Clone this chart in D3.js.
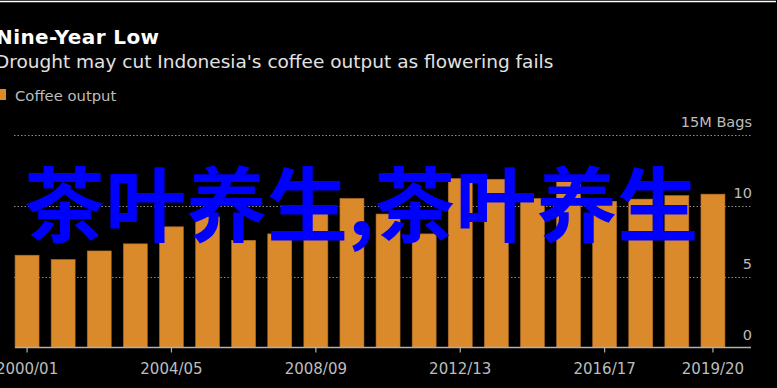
<!DOCTYPE html>
<html>
<head>
<meta charset="utf-8">
<script src="https://cdn.jsdelivr.net/npm/d3@7"></script>
<style>
  html, body { margin: 0; padding: 0; background: #000; }
  svg { display: block; }
</style>
</head>
<body>
<div id="chart"></div>
<script>
// Crop years and output (million bags)
var seasons = ['2000/01', '2001/02', '2002/03', '2003/04', '2004/05',
               '2005/06', '2006/07', '2007/08', '2008/09', '2009/10',
               '2010/11', '2011/12', '2012/13', '2013/14', '2014/15',
               '2015/16', '2016/17', '2017/18', '2018/19', '2019/20'];
var output = [6.5, 6.2, 6.8, 7.3, 8.5, 9.2, 7.55, 8.0, 9.5, 10.5,
              9.4, 8.0, 11.9, 11.85, 10.5, 12.0, 10.3, 10.45, 10.7, 10.8];
var xTickLabels = ['2000/01', '2004/05', '2008/09', '2012/13', '2016/17', '2019/20'];
var yTicks = [0, 5, 10, 15];

var W = 777, H = 388;

// Colour constants
var COLORS = {
  BG: '#000000',
  BAR: '#da8a2a',
  BAR_EDGE: '#a8692a',
  GRID: '#8a8a8a',
  AXIS: '#b0b0b0',
  LABEL: '#bdbdbd',
  TITLE: '#ffffff',
  SUB: '#e2e2e2',
  STAMP: '#0000ff'
};

var svg = d3.select('#chart')
  .append('svg')
  .attr('width', W)
  .attr('height', H)
  .style('font-family', '"DejaVu Sans", Verdana, sans-serif');

svg.append('rect').attr('width', W).attr('height', H).attr('fill', COLORS.BG);

// thin white rule on top
svg.append('line')
  .attr('x1', 0).attr('x2', 776)
  .attr('y1', 1.5).attr('y2', 1.5)
  .attr('stroke', '#ffffff')
  .attr('stroke-width', 1.5);

// Scales
var x = d3.scaleBand()
  .domain(seasons)
  .range([9, 731])
  .paddingInner(0.335)
  .paddingOuter(0.1675);

var y = d3.scaleLinear()
  .domain([0, 15])
  .range([347.5, 134.5]);

// Gridlines (dotted)
svg.append('g')
  .selectAll('line')
  .data(yTicks.filter(function(d) { return d > 0; }))
  .enter().append('line')
  .attr('x1', 14).attr('x2', 751)
  .attr('y1', function(d) { return Math.round(y(d)) + 0.5; })
  .attr('y2', function(d) { return Math.round(y(d)) + 0.5; })
  .attr('stroke', COLORS.GRID)
  .attr('stroke-width', 1)
  .attr('stroke-dasharray', '1.5,2');

// Bars
svg.append('g')
  .selectAll('rect')
  .data(output)
  .enter().append('rect')
  .attr('x', function(d, i) { return x(seasons[i]); })
  .attr('width', x.bandwidth())
  .attr('y', function(d) { return y(d); })
  .attr('height', function(d) { return y(0) - y(d); })
  .attr('fill', COLORS.BAR)
  .attr('stroke', COLORS.BAR_EDGE)
  .attr('stroke-width', 0.6);

// Baseline
svg.append('line')
  .attr('x1', 15).attr('x2', 751)
  .attr('y1', y(0)).attr('y2', y(0))
  .attr('stroke', COLORS.AXIS)
  .attr('stroke-width', 1.5);

// X axis ticks and labels
var xAxis = d3.axisBottom(x)
  .tickValues(xTickLabels)
  .tickSize(5)
  .tickPadding(11);

var gx = svg.append('g')
  .attr('transform', 'translate(0,' + y(0) + ')')
  .call(xAxis);
gx.select('.domain').remove();
gx.selectAll('.tick line').attr('stroke', COLORS.AXIS).attr('stroke-width', 1.2);
gx.selectAll('.tick text')
  .attr('fill', COLORS.LABEL)
  .style('font-size', '15px')
  .style('font-family', '"DejaVu Sans", Verdana, sans-serif');

// Y labels on the right, sitting above gridlines
svg.append('g')
  .selectAll('text')
  .data(yTicks)
  .enter().append('text')
  .attr('x', 752)
  .attr('y', function(d) { return y(d) - 8; })
  .attr('text-anchor', 'end')
  .attr('fill', COLORS.LABEL)
  .style('font-size', '14.5px')
  .text(function(d) { return d === 15 ? '15M Bags' : d; });

// Title block
svg.append('text')
  .attr('x', -4).attr('y', 44)
  .attr('fill', COLORS.TITLE)
  .style('font-size', '20px')
  .style('font-weight', 'bold')
  .style('letter-spacing', '0.4px')
  .text('Nine-Year Low');

svg.append('text')
  .attr('x', -5).attr('y', 68)
  .attr('fill', COLORS.SUB)
  .style('font-size', '18.5px')
  .text("Drought may cut Indonesia's coffee output as flowering fails");

// Legend
svg.append('rect')
  .attr('x', 0).attr('y', 89)
  .attr('width', 6).attr('height', 11)
  .attr('fill', COLORS.BAR);

svg.append('text')
  .attr('x', 15).attr('y', 101)
  .attr('fill', COLORS.LABEL)
  .style('font-size', '14.8px')
  .text('Coffee output');

// Blue overlay text stamped over the chart
svg.append('text')
  .attr('x', 24).attr('y', 235)
  .attr('fill', COLORS.STAMP)
  .style('font-family', '"Noto Sans CJK SC", sans-serif')
  .style('font-size', '81px')
  .style('font-weight', 'bold')
  .text('茶叶养生,茶叶养生');
</script>
</body>
</html>
